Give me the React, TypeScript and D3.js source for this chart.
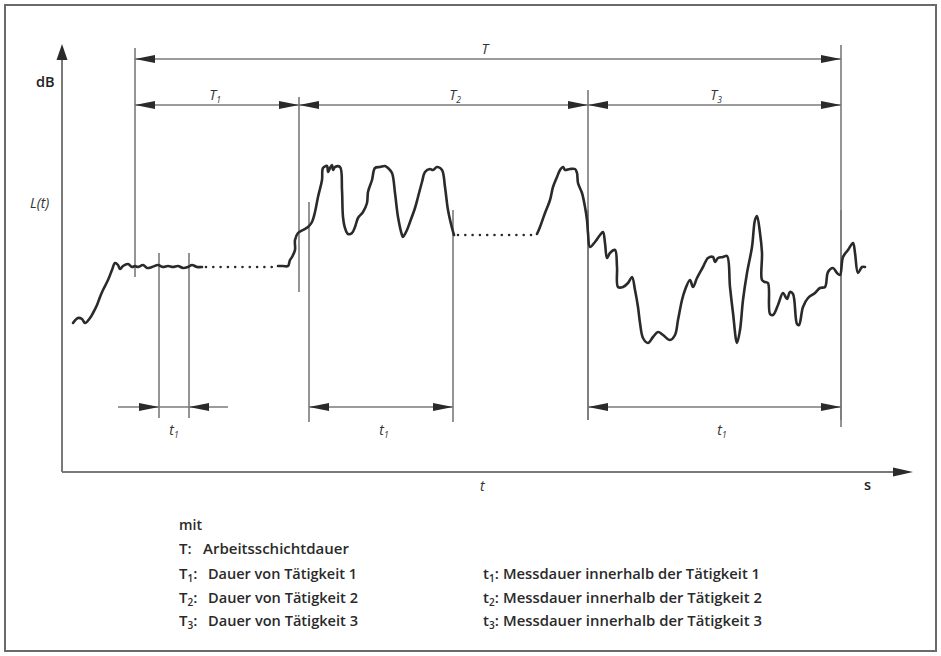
import React from "react";
import * as d3 from "d3";

// ---------- data (time units t, level units L) ----------
const segment1: [number, number][] = [
  [11, 149], [16, 154], [20, 153], [23, 149], [28, 154], [31, 159], [35, 167], [38, 175],
  [41, 182], [46, 192], [50, 202], [53, 209], [56, 207], [58, 203], [61, 206], [66, 208],
  [70, 205], [73, 206], [76, 205], [81, 207], [85, 204], [90, 205], [96, 207], [101, 205],
  [106, 206], [111, 205], [116, 206], [121, 204], [126, 205], [130, 207], [135, 205], [140, 205],
];
const segment2: [number, number][] = [
  [216, 206], [221, 206], [226, 206], [228, 212], [230, 215], [233, 222], [233, 232], [236, 239],
  [241, 242], [246, 245], [250, 250], [253, 260], [256, 275], [260, 292], [261, 304], [265, 306],
  [266, 300], [268, 304], [270, 307], [271, 302], [273, 305], [278, 305], [280, 282], [281, 255],
  [283, 244], [286, 238], [290, 239], [293, 245], [296, 254], [301, 260], [305, 269], [306, 280],
  [310, 292], [313, 304], [318, 305], [323, 306], [326, 304], [330, 299], [333, 279], [336, 255],
  [340, 237], [341, 235], [345, 242], [348, 250], [353, 264], [356, 275], [360, 290], [363, 300],
  [368, 303], [371, 302], [375, 305], [380, 302], [383, 285], [386, 262], [390, 244], [392, 237],
];
const segment3: [number, number][] = [
  [475, 238], [478, 245], [483, 259], [488, 272], [491, 285], [495, 295], [498, 302], [501, 305],
  [503, 302], [508, 303], [513, 303], [515, 299], [516, 289], [520, 279], [523, 265], [525, 252],
  [526, 239], [528, 225], [533, 230], [538, 237], [541, 240], [543, 229], [545, 214], [548, 219],
  [553, 222], [555, 205], [556, 185], [561, 185], [566, 189], [570, 195], [573, 182], [576, 165],
  [578, 149], [581, 134], [586, 129], [591, 135], [596, 140], [601, 137], [608, 132], [613, 137],
  [616, 152], [620, 172], [623, 182], [628, 192], [631, 185], [635, 194], [641, 205], [646, 214],
  [651, 215], [653, 210], [656, 214], [661, 215], [665, 216], [668, 185], [671, 159], [675, 129],
  [678, 142], [681, 172], [685, 199], [690, 225], [693, 252], [695, 256], [698, 239], [700, 219],
  [700, 192], [703, 190], [706, 189], [708, 158], [711, 157], [716, 167], [721, 179], [725, 173],
  [728, 180], [731, 178], [735, 148], [737, 147], [741, 165], [746, 174], [753, 179], [758, 184],
  [763, 185], [766, 200], [771, 204], [775, 199], [778, 197], [781, 215], [786, 222], [791, 229],
  [793, 219], [796, 199], [800, 205], [803, 205],
];
const gapStarts = [140, 392];
const gapEnds = [216, 475];
const gapLevels = [205, 237];

const shiftBounds = [73, 779];
const activityBounds = [73, 237, 526, 779];
const measureStarts = [97, 247, 526];
const measureEnds = [127, 391, 779];
const indexLabels = ["1", "2", "3"];

const legendTitle = "mit";
const legendShiftSym = "T:";
const legendShiftText = "Arbeitsschichtdauer";
const legendActivityText = ["Dauer von Tätigkeit 1", "Dauer von Tätigkeit 2", "Dauer von Tätigkeit 3"];
const legendMeasureText = [
  "Messdauer innerhalb der Tätigkeit 1",
  "Messdauer innerhalb der Tätigkeit 2",
  "Messdauer innerhalb der Tätigkeit 3",
];

// ---------- layout ----------
const W = 941;
const H = 656;
const x = d3.scaleLinear().domain([0, 850]).range([62, 912]);
const y = d3.scaleLinear().domain([0, 420]).range([472, 52]);

const GRAY = "#7a7a7a";
const INK = "#2a2a2a";
const labelFont = "'Open Sans', 'Noto Sans', sans-serif";
const legendFont = "'Open Sans', 'Noto Sans', sans-serif";

function head(tx: number, ty: number, dx: number, dy: number, len = 20, hw = 4) {
  const bx = tx - dx * len;
  const by = ty - dy * len;
  const px = -dy * hw;
  const py = dx * hw;
  return `M${tx},${ty}L${bx + px},${by + py}L${bx - px},${by - py}Z`;
}

export default function App() {
  const line = d3
    .line<[number, number]>()
    .x((d) => x(d[0]))
    .y((d) => y(d[1]))
    .curve(d3.curveCatmullRom.alpha(0.5));

  const yT = 59;
  const yAct = 105;
  const yMeas = 407;

  const actTop = [48, 97, 90, 45];
  const actBottom = [277, 292, 420, 427];
  const measTop = [253, 202, 210];
  const measBottom = [418, 422, 420];

  const actLabelX = [215, 455, 716];
  const activityTextW = [149, 150, 150];
  const measureTextW = [257, 259, 259];

  return (
    <svg
      width={W}
      height={H}
      style={{ position: "absolute", left: 0, top: 0, background: "#fff" }}
    >
      <rect x={5} y={5} width={931} height={646} fill="#fff" stroke="#6a6a6a" strokeWidth={2} />

      {/* axes */}
      <line x1={x(0)} y1={y(0)} x2={x(0)} y2={58} stroke={GRAY} strokeWidth={2} />
      <path d={head(x(0), 44, 0, -1, 16, 5.5)} fill={INK} />
      <line x1={x(0)} y1={y(0)} x2={896} y2={y(0)} stroke={GRAY} strokeWidth={2} />
      <path d={head(913, y(0), 1, 0, 20, 4.5)} fill={INK} />

      {activityBounds.map((b, i) => (
        <line key={"av" + i} x1={x(b)} x2={x(b)} y1={actTop[i]} y2={actBottom[i]} stroke={GRAY} strokeWidth={1.6} />
      ))}
      {measureStarts.map((s, i) => (
        <g key={"mv" + i}>
          <line x1={x(s)} x2={x(s)} y1={measTop[i]} y2={measBottom[i]} stroke={GRAY} strokeWidth={1.6} />
          <line x1={x(measureEnds[i])} x2={x(measureEnds[i])} y1={i === 0 ? measTop[i] : 210} y2={measBottom[i]} stroke={GRAY} strokeWidth={1.6} />
        </g>
      ))}

      {/* T dimension */}
      <line x1={x(shiftBounds[0])} x2={x(shiftBounds[1])} y1={yT} y2={yT} stroke={GRAY} strokeWidth={1.4} />
      <path d={head(x(shiftBounds[0]), yT, -1, 0)} fill={INK} />
      <path d={head(x(shiftBounds[1]), yT, 1, 0)} fill={INK} />
      <text x={485} y={54} fontFamily={labelFont} fontStyle="italic" fontSize={14} fill="#333" textAnchor="middle">T</text>

      {indexLabels.map((lab, i) => {
        const a = x(activityBounds[i]);
        const b = x(activityBounds[i + 1]);
        return (
          <g key={"ad" + i}>
            <line x1={a} x2={b} y1={yAct} y2={yAct} stroke={GRAY} strokeWidth={1.4} />
            <path d={head(a, yAct, -1, 0)} fill={INK} />
            <path d={head(b, yAct, 1, 0)} fill={INK} />
            <text x={actLabelX[i]} y={100} fontFamily={labelFont} fontStyle="italic" fontSize={14} fill="#333" textAnchor="middle">
              T<tspan fontSize={8.5} dy={3}>{lab}</tspan>
            </text>
          </g>
        );
      })}

      {measureStarts.map((s, i) => {
        const a = x(s);
        const b = x(measureEnds[i]);
        const cx = i === 2 ? 722 : (a + b) / 2 + (i === 1 ? 3 : 0);
        return (
          <g key={"md" + i}>
            {i === 0 ? (
              <>
                <line x1={a - 41} x2={b + 39} y1={yMeas} y2={yMeas} stroke={GRAY} strokeWidth={1.4} />
                <path d={head(a, yMeas, 1, 0)} fill={INK} />
                <path d={head(b, yMeas, -1, 0)} fill={INK} />
              </>
            ) : (
              <>
                <line x1={a} x2={b} y1={yMeas} y2={yMeas} stroke={GRAY} strokeWidth={1.4} />
                <path d={head(a, yMeas, -1, 0)} fill={INK} />
                <path d={head(b, yMeas, 1, 0)} fill={INK} />
              </>
            )}
            <text x={cx} y={435} fontFamily={labelFont} fontStyle="italic" fontSize={14} fill="#333" textAnchor="middle">
              t<tspan fontSize={8.5} dy={3}>1</tspan>
            </text>
          </g>
        );
      })}

      {/* level curve */}
      {[segment1, segment2, segment3].map((seg, i) => (
        <path key={"s" + i} d={line(seg) || ""} fill="none" stroke={INK} strokeWidth={2.6} strokeLinejoin="round" strokeLinecap="round" />
      ))}
      {gapStarts.map((g, i) => (
        <line key={"g" + i} x1={x(g) + 4} x2={x(gapEnds[i]) - 2} y1={y(gapLevels[i])} y2={y(gapLevels[i])} stroke={INK} strokeWidth={2.6} strokeLinecap="round" strokeDasharray="0 7.3" />
      ))}

      {/* axis labels */}
      <text x={36} y={87} fontFamily={legendFont} fontSize={14.5} fontWeight={600} fill="#222">dB</text>
      <text x={30} y={208} fontFamily={labelFont} fontStyle="italic" fontSize={14} fill="#333">L(t)</text>
      <text x={480} y={491} fontFamily={labelFont} fontStyle="italic" fontSize={14} fill="#333">t</text>
      <text x={864} y={490} fontFamily={legendFont} fontSize={14.5} fontWeight={600} fill="#222">s</text>

      {/* legend */}
      <g fontFamily={legendFont} fontSize={15} fontWeight={600} fill="#2a2a2a">
        <text x={179} y={530} textLength={23} lengthAdjust="spacingAndGlyphs">{legendTitle}</text>
        <text x={179} y={554}>{legendShiftSym}</text>
        <text x={203} y={554} textLength={146} lengthAdjust="spacingAndGlyphs">{legendShiftText}</text>
        {legendActivityText.map((t, i) => (
          <g key={"la" + i}>
            <text x={179} y={579 + i * 23.5}>
              T<tspan fontSize={10} dy={3}>{indexLabels[i]}</tspan>
              <tspan dy={-3}>:</tspan>
            </text>
            <text x={208} y={579 + i * 23.5} textLength={activityTextW[i]} lengthAdjust="spacingAndGlyphs">{t}</text>
          </g>
        ))}
        {legendMeasureText.map((t, i) => (
          <g key={"lm" + i}>
            <text x={483} y={579 + i * 23.5}>
              t<tspan fontSize={10} dy={3}>{indexLabels[i]}</tspan>
              <tspan dy={-3}>:</tspan>
            </text>
            <text x={503} y={579 + i * 23.5} textLength={measureTextW[i]} lengthAdjust="spacingAndGlyphs">{t}</text>
          </g>
        ))}
      </g>
    </svg>
  );
}
